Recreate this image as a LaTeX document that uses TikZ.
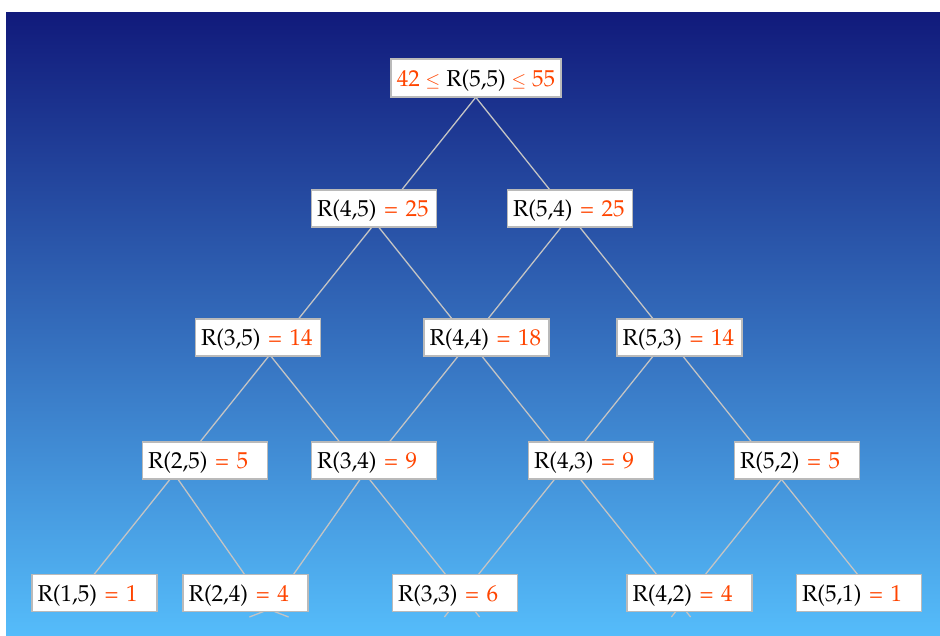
\documentclass[tikz,border=0pt]{standalone}
\usepackage[T1]{fontenc}
\usepackage{mathpazo}
\definecolor{org}{RGB}{255,69,0}
\definecolor{edgegray}{RGB}{196,196,196}
\definecolor{boxgray}{RGB}{186,186,186}
\definecolor{bgtop}{RGB}{17,26,123}
\definecolor{bgbot}{RGB}{85,188,250}
\newcommand{\smallleq}{{\fontsize{18}{20}\selectfont$\leq$}}
\begin{document}
\begin{tikzpicture}[x=1pt,y=-1pt,
  rbox/.style={draw=boxgray, line width=1.5pt, fill=white, text width=114pt, align=left,
    inner xsep=5.5pt, inner ysep=0pt, minimum height=37pt, text height=18pt, text depth=2pt,
    font=\fontsize{23}{27}\selectfont},
  rootbox/.style={draw=boxgray, line width=1.5pt, fill=white, inner xsep=5.5pt, inner ysep=0pt,
    minimum width=170pt, minimum height=38pt, text height=18pt, text depth=2pt,
    font=\fontsize{23}{27}\selectfont},
  lattice/.style={draw=edgegray, line width=1.3pt}]
\useasboundingbox (0,0) rectangle (940,635);
\fill[white] (0,0) rectangle (940,635);
\shade[top color=bgtop, bottom color=bgbot] (6,12) rectangle (940,635);
% lattice points
\coordinate (a00) at (475.8,97.3);
\coordinate (a10) at (570.5,215.6);
\coordinate (a01) at (375.3,222.9);
\coordinate (a20) at (668,337.5);
\coordinate (a11) at (470,341.3);
\coordinate (a02) at (269.8,354.8);
\coordinate (a30) at (781.5,479.4);
\coordinate (a21) at (567.5,463.1);
\coordinate (a12) at (364.5,473.1);
\coordinate (a03) at (174.3,474);
\coordinate (a31) at (681,604.9);
\coordinate (a22) at (462,595);
\coordinate (a13) at (269,609.4);
\coordinate (e0) at (77.6,595);
\coordinate (f0) at (874,595);
\coordinate (e1) at (249.4,617);
\coordinate (e2) at (444.4,617);
\coordinate (e3) at (671.4,617);
\coordinate (f1) at (690.6,617);
\coordinate (f2) at (479.6,617);
\coordinate (f3) at (288.6,617);
% lines
\draw[lattice] (a00) -- (a01) -- (a02) -- (a03) -- (e0);
\draw[lattice] (a00) -- (a10) -- (a20) -- (a30) -- (f0);
\draw[lattice] (a10) -- (a11) -- (a12) -- (a13) -- (e1);
\draw[lattice] (a20) -- (a21) -- (a22) -- (e2);
\draw[lattice] (a30) -- (a31) -- (e3);
\draw[lattice] (a01) -- (a11) -- (a21) -- (a31) -- (f1);
\draw[lattice] (a02) -- (a12) -- (a22) -- (f2);
\draw[lattice] (a03) -- (a13) -- (f3);
% boxes
\node[rootbox] (r55) at (476,78) {\textcolor{org}{42 \smallleq} R(5,5) \textcolor{org}{\smallleq{} 55}};
\node[rbox] (r45) at (374,208.5) {R(4,5) \textcolor{org}{= 25}};
\node[rbox] (r54) at (570,208.5) {R(5,4) \textcolor{org}{= 25}};
\node[rbox] (r35) at (258,337.5) {R(3,5) \textcolor{org}{= 14}};
\node[rbox] (r44) at (486.5,337.5) {R(4,4) \textcolor{org}{= 18}};
\node[rbox] (r53) at (679.5,337.5) {R(5,3) \textcolor{org}{= 14}};
\node[rbox] (r25) at (205,460.5) {R(2,5) \textcolor{org}{= 5}};
\node[rbox] (r34) at (374,460.5) {R(3,4) \textcolor{org}{= 9}};
\node[rbox] (r43) at (591,460.5) {R(4,3) \textcolor{org}{= 9}};
\node[rbox] (r52) at (797,460.5) {R(5,2) \textcolor{org}{= 5}};
\node[rbox] (r15) at (94.5,593) {R(1,5) \textcolor{org}{= 1}};
\node[rbox] (r24) at (245.7,593) {R(2,4) \textcolor{org}{= 4}};
\node[rbox] (r33) at (455,593) {R(3,3) \textcolor{org}{= 6}};
\node[rbox] (r42) at (689.5,593) {R(4,2) \textcolor{org}{= 4}};
\node[rbox] (r51) at (859,593) {R(5,1) \textcolor{org}{= 1}};
\end{tikzpicture}
\end{document}
